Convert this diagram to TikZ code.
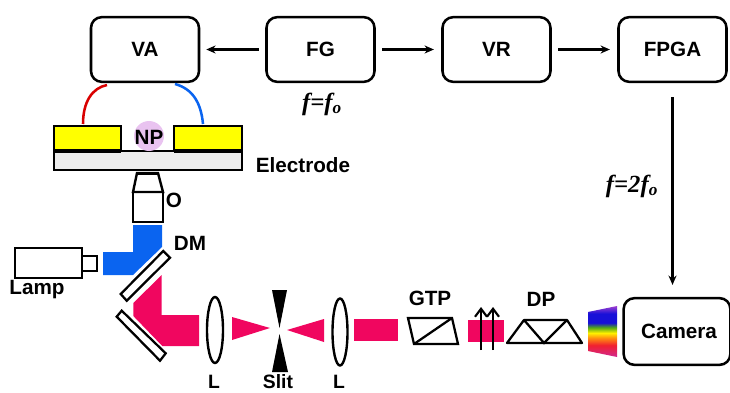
\documentclass[tikz,border=0pt]{standalone}
\usepackage{fontspec}
\setmainfont{Liberation Sans}
\newfontfamily\freqfont{Liberation Serif}
\usepackage{xcolor}
\usetikzlibrary{arrows.meta,positioning,calc,shapes.geometric}
\definecolor{beamblue}{HTML}{0A64F0}
\definecolor{beampink}{HTML}{F0065F}
\definecolor{padyellow}{HTML}{FFFF00}
\definecolor{npviolet}{HTML}{E9C3F0}
\definecolor{specviolet}{HTML}{A040D0}
\definecolor{specblue}{HTML}{1810D8}
\definecolor{specgreen}{HTML}{50A818}
\definecolor{specyellow}{HTML}{FFF000}
\definecolor{specorange}{HTML}{FF8C10}
\definecolor{specred}{HTML}{F02030}
\definecolor{specrose}{HTML}{D02890}
\pgfdeclareverticalshading{spectrum}{100bp}{color(0bp)=(specrose);color(25bp)=(specrose);color(36.5bp)=(specred);color(43.5bp)=(specorange);color(48.5bp)=(specyellow);color(54bp)=(specgreen);color(58.5bp)=(specblue);color(67.5bp)=(specblue);color(75bp)=(specviolet);color(100bp)=(specviolet)}

\begin{document}
\begin{tikzpicture}[x=0.75pt,y=-0.75pt,>={Stealth[length=7pt,width=6pt]},
  unit/.style={draw,line width=1.9pt,rounded corners=8pt,font=\bfseries\fontsize{15.5}{17}\selectfont,minimum width=81pt,minimum height=48.5pt,inner sep=0pt},
  tag/.style={font=\bfseries\fontsize{15.5}{17}\selectfont,inner sep=0pt},
  freq/.style={font=\freqfont\bfseries\itshape\fontsize{18.5}{20}\selectfont,inner sep=0pt},
  link/.style={->,line width=1.7pt},
  optic/.style={draw,line width=1.7pt,fill=white}
]
  \useasboundingbox (0,0) rectangle (730,392);

  % instrument chain
  \node[unit] (va) at (145,49.5) {VA};
  \node[unit] (fg) at (320.5,49.5) {FG};
  \node[unit] (vr) at (496.5,49.5) {VR};
  \node[unit] (fpga) at (672.5,49.5) {FPGA};
  \node[unit,minimum width=80pt,minimum height=50pt] (camera) at (677,331.5) {\hspace*{3pt}Camera};
  \draw[link,shorten <=5pt,shorten >=4.5pt] (fg) -- (va);
  \draw[link,shorten <=5pt,shorten >=5.5pt] (fg) -- (vr);
  \draw[link,shorten <=5pt,shorten >=5.5pt] (vr) -- (fpga);
  \draw[link,shorten <=10.5pt,shorten >=9pt] (fpga.south) -- (fpga.south |- camera.north);
  \node[freq] (f1) at (322,104) {f=f\textsubscript{o}};
  \node[freq] (f2) at (632,186) {f=2f\textsubscript{o}};

  % electrode
  \draw[line width=1.5pt,fill=black!7] (54,151) rectangle (242,170);
  \fill[npviolet] (149,136) circle (15);
  \draw[line width=1.5pt,fill=padyellow] (54,126) rectangle (121,150);
  \draw[line width=1.5pt,fill=padyellow] (174,126) rectangle (242,150);
  \fill (54,149) rectangle (121,152.5);
  \fill (174,149) rectangle (242,152.5);
  \node[tag] (np) at (149,137) {NP};
  \node[tag] (electrode) at (303,165) {Electrode};
  \draw[line width=1.9pt,color=red!85!black] (83,124) .. controls (83,102) and (92,88) .. (107,85);
  \draw[line width=1.9pt,color=beamblue] (203,124) .. controls (201,103) and (193,89) .. (175,84);

  % objective
  \draw[line width=1.8pt] (137,173) -- (158,173) -- (163,192) -- (133,192) -- cycle;
  \draw[line width=1.8pt] (133,192) rectangle (163,222);
  \fill (138,171.5) rectangle (157,174.5);
  \node[tag] (objective) at (174,200) {O};

  % beams
  \fill[beamblue] (133,225) -- (162,225) -- (162,247) -- (133,275) -- (103,275) -- (103,252) -- (133,252) -- cycle;
  \fill[beampink] (161.7,275) -- (161.7,315) -- (199,315) -- (199,346) -- (162.3,346) -- (133.3,316) -- (133.3,303) -- cycle;
  \fill[beampink] (232,317) -- (232,340) -- (270,328) -- cycle;
  \fill[beampink] (324,319) -- (324,342) -- (287,330) -- cycle;
  \fill[beampink] (354,319) rectangle (398,341);
  \fill[beampink] (468,320) rectangle (504,342);

  % lamp
  \draw[line width=1.8pt] (15,248) rectangle (82,278);
  \draw[line width=1.8pt] (82,256) rectangle (97,271);
  \node[tag] (lamp) at (37,290) {Lamp};

  % mirrors
  \draw[optic] (163.3,251) -- (170,257.7) -- (126.7,300.7) -- (120.7,294) -- cycle;
  \draw[optic] (121.7,310.7) -- (165.7,353.3) -- (160,360.7) -- (116.7,316.7) -- cycle;
  \node[tag] (dm) at (190,243) {DM};

  % lenses and slit
  \draw[line width=1.8pt] (215,330) ellipse (8 and 33);
  \draw[line width=1.8pt] (340,332) ellipse (7.5 and 33.5);
  \fill (272,290) -- (287,290) -- (279.5,328) -- cycle;
  \fill (279.5,334) -- (272,372) -- (288,372) -- cycle;
  \node[tag,font=\bfseries\fontsize{14.5}{16}\selectfont] (lensa) at (214,381.5) {L};
  \node[tag,font=\bfseries\fontsize{14.5}{16}\selectfont] (slit) at (278,381.5) {Slit};
  \node[tag,font=\bfseries\fontsize{14.5}{16}\selectfont] (lensb) at (339,381.5) {L};

  % polarizer
  \draw[line width=1.7pt] (408,318) -- (452,318) -- (458,344) -- (414,344) -- cycle;
  \draw[line width=1.7pt] (414,344) -- (452,318);
  \node[tag] (gtp) at (430,298) {GTP};
  \draw[->,line width=1.6pt,>={Straight Barb[length=6pt,width=9pt]}] (481,350) -- (481,307);
  \draw[->,line width=1.6pt,>={Straight Barb[length=6pt,width=9pt]}] (493,350) -- (493,307);

  % prism and spectrum
  \draw[line width=1.7pt,line join=round] (507,343) -- (582,343) -- (567,320) -- (524,320) -- cycle;
  \draw[line width=1.7pt] (524,320) -- (544,343) -- (567,320);
  \node[tag] (dp) at (541,299) {DP};
  \shade[shading=spectrum] (588,312) -- (617,306) -- (617,357) -- (588,351) -- cycle;
\end{tikzpicture}
\end{document}
